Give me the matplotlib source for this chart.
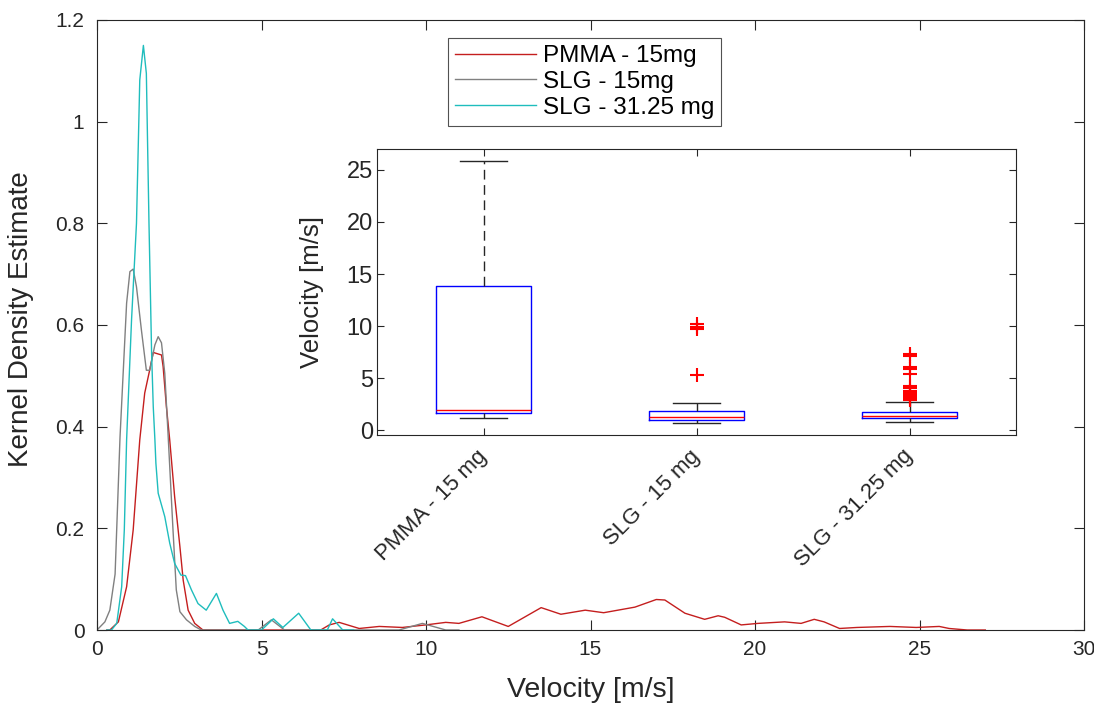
import matplotlib
matplotlib.use("Agg")
import matplotlib.pyplot as plt
import numpy as np

plt.rcParams['font.family'] = ['Liberation Sans', 'DejaVu Sans']

# ---- KDE curves ----
pmma_x = [0.3, 0.39, 0.65, 0.9, 1.1, 1.3, 1.45, 1.6, 1.71, 1.96, 2.01, 2.11, 2.21, 2.36, 2.52, 2.62,
          2.77, 2.97, 3.22, 6.8, 7.06, 7.36, 7.97, 8.58, 9.28, 9.99, 10.6, 11.0, 11.7, 12.5, 13.5,
          14.1, 14.84, 15.4, 16.35, 17.0, 17.26, 17.87, 18.47, 18.88, 19.08, 19.58, 20.09, 20.9,
          21.4, 21.8, 22.1, 22.57, 23.1, 24.1, 24.9, 25.6, 25.9, 26.45, 27.0]
pmma_y = [0.0, 0.0, 0.016, 0.085, 0.197, 0.374, 0.466, 0.511, 0.546, 0.541, 0.518, 0.439, 0.374,
          0.262, 0.164, 0.098, 0.039, 0.013, 0.0, 0.0, 0.010, 0.015, 0.003, 0.007, 0.005, 0.010,
          0.015, 0.013, 0.026, 0.007, 0.044, 0.031, 0.039, 0.034, 0.045, 0.060, 0.059, 0.033,
          0.021, 0.028, 0.025, 0.010, 0.013, 0.016, 0.013, 0.021, 0.016, 0.003, 0.005, 0.007,
          0.005, 0.007, 0.003, 0.0, 0.0]

slg15_x = [0.0, 0.24, 0.39, 0.55, 0.70, 0.9, 1.0, 1.1, 1.2, 1.35, 1.5, 1.6, 1.76, 1.86, 1.96, 2.06,
           2.16, 2.31, 2.41, 2.52, 2.72, 2.97, 3.17, 4.9, 5.3, 5.7, 9.18, 9.89, 10.6, 11.0]
slg15_y = [0.0, 0.016, 0.039, 0.11, 0.38, 0.643, 0.705, 0.71, 0.675, 0.59, 0.511, 0.511, 0.561,
           0.577, 0.565, 0.505, 0.385, 0.197, 0.079, 0.036, 0.020, 0.007, 0.0, 0.0, 0.02, 0.0,
           0.0, 0.013, 0.0, 0.0]

slg31_x = [0.3, 0.44, 0.6, 0.75, 0.83, 0.9, 1.05, 1.2, 1.30, 1.41, 1.5, 1.58, 1.66, 1.71, 1.76,
           1.79, 1.86, 2.06, 2.21, 2.36, 2.55, 2.69, 2.87, 3.07, 3.32, 3.63, 3.83, 4.03, 4.28,
           4.48, 4.59, 5.0, 5.36, 5.65, 6.13, 6.5, 7.0, 7.16, 7.47, 7.8]
slg31_y = [0.0, 0.0, 0.013, 0.085, 0.197, 0.374, 0.61, 0.80, 1.082, 1.15, 1.095, 0.80, 0.544,
           0.439, 0.374, 0.328, 0.269, 0.223, 0.171, 0.131, 0.108, 0.107, 0.079, 0.052, 0.039,
           0.072, 0.039, 0.013, 0.017, 0.007, 0.0, 0.0, 0.022, 0.005, 0.033, 0.0, 0.0, 0.022,
           0.0, 0.0]

legend_labels = ['PMMA - 15mg', 'SLG - 15mg', 'SLG - 31.25 mg']
curve_colors = ['#C41E1E', '#808080', '#1FBDBD']

# ---- Box plot statistics ----
box_labels = ['PMMA - 15 mg', 'SLG - 15 mg', 'SLG - 31.25 mg']
box_whislo = [1.22, 0.71, 0.80]
box_q1 = [1.67, 0.96, 1.22]
box_med = [1.99, 1.32, 1.38]
box_q3 = [13.85, 1.86, 1.77]
box_whishi = [25.84, 2.63, 2.70]
box_fliers = [[],
              [10.2, 9.95, 9.7, 5.35],
              [7.3, 7.1, 6.1, 5.9, 5.4, 4.3, 4.1, 3.8, 3.6, 3.4, 3.2, 3.0, 2.9]]

W, H = 1094, 705
fig = plt.figure(figsize=(W / 100, H / 100), dpi=100)
axc = '#262626'

ax = fig.add_axes([97 / W, 1 - 630 / H, (1084 - 97) / W, (630 - 20) / H])
for xs, ys, c, lab in zip([pmma_x, slg15_x, slg31_x], [pmma_y, slg15_y, slg31_y],
                          curve_colors, legend_labels):
    ax.plot(xs, ys, color=c, lw=1.0, label=lab)
ax.set_xlim(0, 30)
ax.set_ylim(0, 1.2)
ax.set_xticks(np.arange(0, 31, 5))
ax.set_yticks(np.arange(0, 1.21, 0.2))
ax.set_yticklabels(['0', '0.2', '0.4', '0.6', '0.8', '1', '1.2'])
ax.tick_params(direction='in', top=True, right=True, labelsize=15, colors=axc, length=7, width=0.8)
ax.tick_params(axis='y', pad=9)
ax.tick_params(axis='x', pad=7)
for s in ax.spines.values():
    s.set_color(axc)
    s.set_linewidth(0.8)
ax.set_xlabel('Velocity [m/s]', fontsize=20.5, color=axc, va='center')
ax.set_ylabel('Kernel Density Estimate', fontsize=20, color=axc, va='center')
ax.xaxis.set_label_coords(0.5, (630 - 690) / 610)
ax.yaxis.set_label_coords((21 - 97) / 987, 0.51)
leg = ax.legend(loc='upper left', bbox_to_anchor=(448 / W, 1 - 38 / H),
                bbox_transform=fig.transFigure, fontsize=17.5, frameon=True, fancybox=False,
                handlelength=3.3, borderpad=0.3, labelspacing=0.15, handletextpad=0.3,
                borderaxespad=0)
leg.get_frame().set_edgecolor(axc)
leg.get_frame().set_linewidth(0.8)

# ---- inset box plot ----
ia = fig.add_axes([377 / W, 1 - 435 / H, (1016 - 377) / W, (435 - 149) / H])
stats = []
for i in range(3):
    stats.append(dict(med=box_med[i], q1=box_q1[i], q3=box_q3[i], whislo=box_whislo[i],
                      whishi=box_whishi[i], fliers=box_fliers[i], label=box_labels[i]))
ia.bxp(stats, positions=[1, 2, 3], widths=0.45, capwidths=0.22, showfliers=True,
       boxprops=dict(color='#0000FF', lw=1.0),
       medianprops=dict(color='#FF0000', lw=1.0),
       whiskerprops=dict(color='#262626', lw=1.0, linestyle=(0, (7, 4))),
       capprops=dict(color='#262626', lw=1.0),
       flierprops=dict(marker='+', markeredgecolor='#FF0000', markersize=10, markeredgewidth=1.5))
ia.set_xlim(0.5, 3.5)
ia.set_ylim(-0.45, 27)
ia.set_yticks([0, 5, 10, 15, 20, 25])
ia.set_xticks([1, 2, 3])
ia.set_xticklabels(box_labels, rotation=45, ha='right', va='center', rotation_mode='anchor',
                   fontsize=16)
ia.tick_params(direction='in', top=True, right=True, labelsize=17, colors=axc, length=5, width=0.8)
ia.tick_params(axis='x', labelsize=16, pad=13)
ia.tick_params(axis='y', pad=3)
for s in ia.spines.values():
    s.set_color(axc)
    s.set_linewidth(0.8)
ia.set_ylabel('Velocity [m/s]', fontsize=18.5, color=axc, va='center')
ia.yaxis.set_label_coords((312 - 377) / 639, 0.5)

fig.savefig('out.png', dpi=100)
